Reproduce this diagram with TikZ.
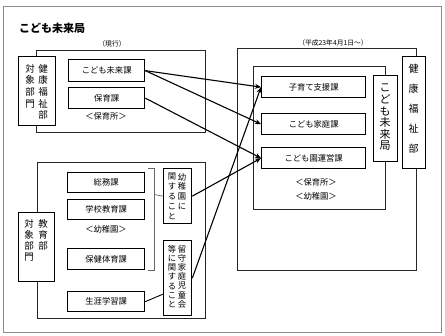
\documentclass[tikz,border=0pt]{standalone}
\usepackage{fontspec}
\setmainfont{Noto Sans CJK JP}
\usetikzlibrary{arrows.meta}
\begin{document}
\begin{tikzpicture}[x=1pt,y=-1pt,
  unitbox/.style={draw, line width=1.3pt, fill=white, anchor=north west, inner sep=0pt, font=\fontsize{8.3}{10}\selectfont},
  sidebox/.style={draw, line width=0.9pt, fill=white, anchor=north west, inner sep=0pt},
  contbox/.style={draw=black!85, line width=0.9pt, anchor=north west, inner sep=0pt},
  vcol/.style={anchor=north, align=center, inner sep=0pt},
  small/.style={font=\fontsize{6.8}{8}\selectfont, inner sep=0pt},
  note/.style={font=\fontsize{8.3}{10}\selectfont, inner sep=0pt},
  arr/.style={-{Stealth[length=6pt,width=5pt]}, line width=1.1pt},
  brack/.style={draw=black!60, line width=0.7pt}
]
\useasboundingbox (0,0) rectangle (445,336);
% outer frame
\node[draw=black!45, line width=1.1pt, anchor=north west, minimum width=438pt, minimum height=326pt, inner sep=0pt] (frame) at (3,6) {};
\node[anchor=west, inner sep=0pt, font=\fontsize{11}{13}\selectfont\bfseries] (title) at (19,28) {こども未来局};

% ---------- upper left ----------
\node[small] (genkolbl) at (112,44) {（現行）};
\node[contbox, minimum width=169pt, minimum height=82pt] (genko) at (36,50) {};
\node[sidebox, minimum width=37pt, minimum height=69pt] (kenko) at (18,56) {};
\node[vcol, font=\fontsize{9.5}{11.7}\selectfont] (kenkoA) at (43,64) {健\\康\\福\\祉\\部};
\node[vcol, font=\fontsize{9.5}{11.7}\selectfont] (kenkoB) at (30,64) {対\\象\\部\\門};
\node[unitbox, minimum width=76pt, minimum height=22pt] (kodomoka) at (68,59) {};
\node[note] at (kodomoka.center) {こども未来課};
\node[unitbox, minimum width=76pt, minimum height=21pt] (hoikuka) at (68,87) {};
\node[note] at (hoikuka.center) {保育課};
\node[note] (hoikusho1) at (106,116) {＜保育所＞};

% ---------- lower left ----------
\node[contbox, minimum width=168pt, minimum height=156pt] (kyoikubox) at (37,162) {};
\node[sidebox, minimum width=36pt, minimum height=69pt] (kyoiku) at (18,212) {};
\node[vcol, font=\fontsize{9.5}{11}\selectfont] (kyoikuA) at (43,219) {教\\育\\部};
\node[vcol, font=\fontsize{9.5}{11}\selectfont] (kyoikuB) at (29,219) {対\\象\\部\\門};
\node[unitbox, minimum width=77pt, minimum height=20pt] (somu) at (67,172) {};
\node[note] at (somu.center) {総務課};
\node[unitbox, minimum width=77pt, minimum height=20pt] (gakko) at (67,199) {};
\node[note] at (gakko.center) {学校教育課};
\node[note] (yochien1) at (106,229) {＜幼稚園＞};
\node[unitbox, minimum width=77pt, minimum height=21pt] (hoken) at (67,248) {};
\node[note] at (hoken.center) {保健体育課};
\node[unitbox, minimum width=77pt, minimum height=20pt] (shogai) at (67,291) {};
\node[note] at (shogai.center) {生涯学習課};
% bracket
\coordinate (bt) at (148,168);
\coordinate (bb) at (148,270);
\coordinate (bm) at (154,194.5);
\draw[brack] (bt) -- ++(6,0) |- (bb);

\node[unitbox, minimum width=28pt, minimum height=55pt] (youchien) at (163,168) {};
\node[vcol, font=\fontsize{8.3}{9.8}\selectfont] at (182,173) {幼\\稚\\園\\に};
\node[vcol, font=\fontsize{8.3}{9.8}\selectfont] at (172,173) {関\\す\\る\\こ\\と};
\draw[brack] (bm) -- (youchien.west);
\node[unitbox, minimum width=28pt, minimum height=75pt] (rusu) at (163,240) {};
\node[vcol, font=\fontsize{8.3}{9.2}\selectfont] at (182,245) {留\\守\\家\\庭\\児\\童\\会};
\node[vcol, font=\fontsize{8.3}{9.2}\selectfont] at (172,245) {等\\に\\関\\す\\る\\こ\\と};
\draw[line width=0.9pt] (shogai.east) -- ([yshift=-16pt]rusu.west);

% ---------- right ----------
\node[small] (newlbl) at (333,43) {（平成23年4月1日～）};
\node[contbox, minimum width=179pt, minimum height=222pt] (newbox) at (237,48) {};
\node[contbox, minimum width=132pt, minimum height=143pt] (inner) at (253,66) {};
\node[unitbox, minimum width=104pt, minimum height=21pt] (kosodate) at (261,76) {};
\node[note] at (kosodate.center) {子育て支援課};
\node[unitbox, minimum width=104pt, minimum height=21pt] (katei) at (261,113) {};
\node[note] at (katei.center) {こども家庭課};
\node[unitbox, minimum width=104pt, minimum height=21pt] (unei) at (261,147) {};
\node[note] at (unei.center) {こども園運営課};
\node[note] (hoikusho2) at (316,182) {＜保育所＞};
\node[note] (yochien2) at (316,196) {＜幼稚園＞};
\node[sidebox, minimum width=24pt, minimum height=86pt] (mirai) at (373,75) {};
\node[vcol, font=\fontsize{11}{11.6}\selectfont] at (385,84) {こ\\ど\\も\\未\\来\\局};
\node[sidebox, minimum width=23pt, minimum height=112pt] (kenko2) at (402,56) {};
\node[vcol, font=\fontsize{10}{20}\selectfont] at (413.5,64) {健\\康\\福\\祉\\部};

% ---------- arrows ----------
\draw[arr] (kodomoka.east) -- (kosodate.west);
\draw[arr] (kodomoka.east) -- (katei.west);
\draw[arr] (hoikuka.east) -- (unei.west);
\draw[arr] (youchien.east) -- (unei.west);
\draw[arr] (rusu.east) -- (kosodate.west);
\end{tikzpicture}
\end{document}
